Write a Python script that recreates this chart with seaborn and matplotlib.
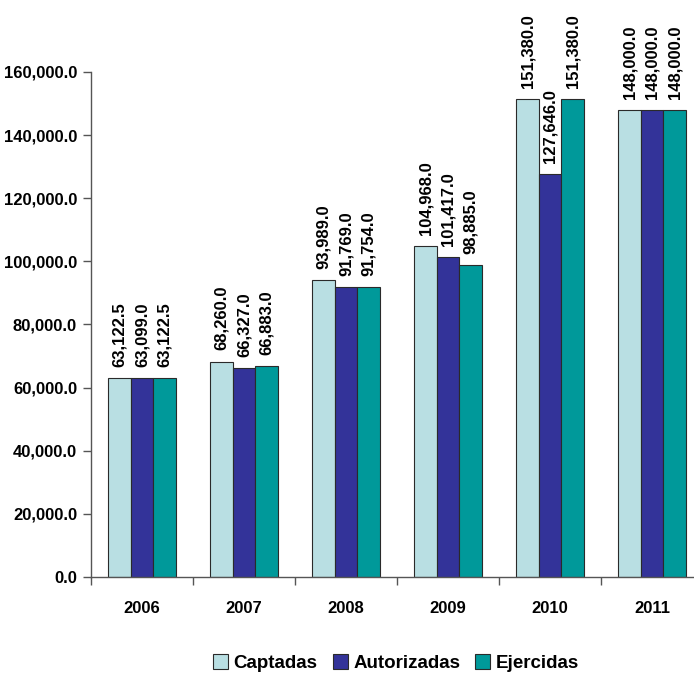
import matplotlib
matplotlib.use("Agg")
import matplotlib.pyplot as plt
import seaborn as sns
import pandas as pd
from matplotlib.ticker import FuncFormatter, FixedLocator
from matplotlib.patches import Patch

years = ["2006", "2007", "2008", "2009", "2010", "2011"]
series = ["Captadas", "Autorizadas", "Ejercidas"]
captadas = [63122.5, 68260.0, 93989.0, 104968.0, 151380.0, 148000.0]
autorizadas = [63099.0, 66327.0, 91769.0, 101417.0, 127646.0, 148000.0]
ejercidas = [63122.5, 66883.0, 91754.0, 98885.0, 151380.0, 148000.0]
colors = ["#B9DFE3", "#333399", "#00999A"]

rows = []
for name, vals in zip(series, [captadas, autorizadas, ejercidas]):
    for y, v in zip(years, vals):
        rows.append({"year": y, "serie": name, "value": v})
df = pd.DataFrame(rows)

sns.set_style("white")
font = ["Liberation Sans", "DejaVu Sans"]

fig = plt.figure(figsize=(6.94, 6.79), dpi=100)
ax = fig.add_axes([91/694, 102/679, 1 - 91/694, 577/679])

sns.barplot(data=df, x="year", y="value", hue="serie", order=years,
            hue_order=series, palette=colors, width=0.66, ax=ax,
            edgecolor="#2a2a2a", linewidth=0.8, legend=False, saturation=1)

for cont in ax.containers:
    ax.bar_label(cont, labels=[f"{v:,.1f}" for v in cont.datavalues],
                 rotation=90, padding=8, fontsize=12, fontweight="bold",
                 family=font, color="black")

ax.set_xlim(-0.5, 5.41)
ax.set_ylim(0, 182800)
ax.set_yticks(range(0, 160001, 20000))
ax.yaxis.set_major_formatter(FuncFormatter(lambda v, p: f"{v:,.1f}"))
ax.set_xlabel("")
ax.set_ylabel("")
for s in ["top", "right"]:
    ax.spines[s].set_visible(False)
for s in ["left", "bottom"]:
    ax.spines[s].set_color("#555555")
    ax.spines[s].set_linewidth(1)
ax.spines["left"].set_bounds(0, 160000)

ax.tick_params(axis="y", which="major", left=True, length=6, width=1,
               color="#555555", pad=4, labelcolor="black")
ax.tick_params(axis="x", which="major", bottom=False, pad=14, labelcolor="black")
ax.xaxis.set_minor_locator(FixedLocator([i - 0.5 for i in range(len(years))]))
ax.tick_params(axis="x", which="minor", bottom=True, length=6, width=1,
               color="#555555")

for lab in ax.get_yticklabels():
    lab.set_family(font)
    lab.set_fontweight("bold")
    lab.set_fontsize(12)
for lab in ax.get_xticklabels():
    lab.set_family(font)
    lab.set_fontweight("bold")
    lab.set_fontsize(12)

handles = [Patch(facecolor=c, edgecolor="#2a2a2a", linewidth=0.8) for c in colors]
leg = fig.legend(handles, series, loc="center", bbox_to_anchor=(396/694, 1 - 663/679),
                 ncol=3, frameon=False, handlelength=0.8, handleheight=0.9,
                 handletextpad=0.3, columnspacing=0.8, labelcolor="black",
                 prop={"family": font, "size": 13.5, "weight": "bold"})

fig.savefig("out.png", dpi=100)
